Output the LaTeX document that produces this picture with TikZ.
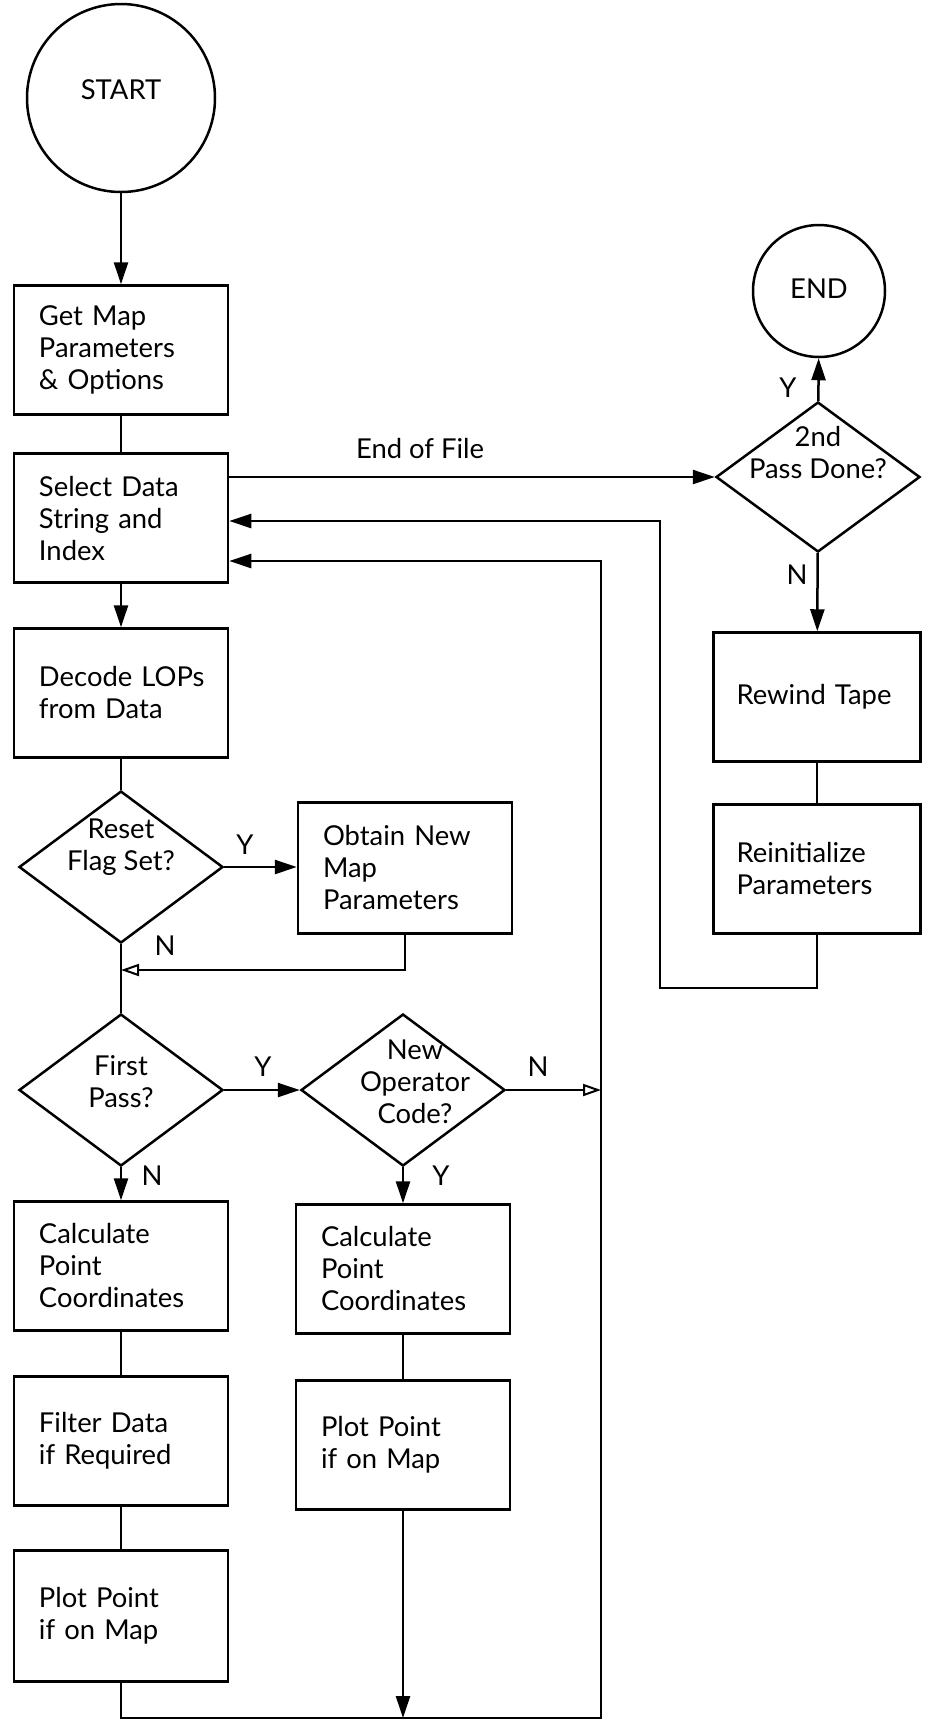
\documentclass[tikz,border=0pt]{standalone}
\usepackage{fontspec}
\setmainfont{Lato}
\usetikzlibrary{shapes.geometric,arrows.meta}
\begin{document}
\begin{tikzpicture}[x=0.5pt,y=-0.5pt,
  every node/.style={font=\fontsize{13.7pt}{16pt}\selectfont},
  line/.style={line width=1.25pt},
  flow/.style={line width=1.25pt,-{Triangle[length=11pt,width=7pt]}},
  openflow/.style={line width=1.25pt,-{Triangle[open,length=9pt,width=6pt,line width=1pt]}},
  box/.style={draw,line width=1.25pt,rectangle,minimum width=107pt,minimum height=64.5pt,text width=82pt,inner xsep=12.5pt,align=left},
  rbox/.style={box,minimum width=103.5pt,text width=80.5pt,inner xsep=11.5pt},
  term/.style={draw,line width=1.25pt,circle,inner sep=0pt},
  dec/.style={draw,line width=1.25pt,diamond,inner sep=0pt,minimum width=102pt,minimum height=76pt},
  dtext/.style={align=center,inner sep=0pt},
  lab/.style={inner sep=0pt}
]
\useasboundingbox (0,0) rectangle (932,1721);

% left column
\node[term,minimum size=94pt,label={[lab,yshift=4pt]center:START}] (start) at (121,98) {};
\node[box] (getmap) at (121,350) {Get~Map\\Parameters\\\&~Options};
\node[box] (select) at (121,518) {Select~Data\\String~and\\Index};
\node[box] (decode) at (121,693) {Decode~LOPs\\from~Data};
\node[dec,label={[dtext,yshift=10pt]center:{Reset\\Flag~Set?}}] (reset) at (121,867) {};
\node[box,minimum height=65.5pt] (obtain) at (405,868) {Obtain~New\\Map\\Parameters};
\node[dec,label={[dtext,yshift=4pt]center:{First\\Pass?}}] (first) at (121,1090) {};
\node[dec,label={[dtext,yshift=4pt,xshift=6pt]center:{New\\Operator\\Code?}}] (newop) at (403,1090) {};
\node[box] (calc1) at (121,1266) {Calculate\\Point\\Coordinates};
\node[box] (calc2) at (403,1269) {Calculate\\Point\\Coordinates};
\node[box] (filter) at (121,1441) {Filter~Data\\if~Required};
\node[box] (plot2) at (403,1445) {Plot~Point\\if~on~Map};
\node[box,minimum height=65.5pt] (plot1) at (121,1616) {Plot~Point\\if~on~Map};

% right column
\node[term,minimum size=66pt,label={[lab,yshift=1pt]center:END}] (end) at (819,291) {};
\node[dec,minimum height=75pt,label={[dtext,yshift=12pt]center:{2nd\\Pass~Done?}}] (pass2) at (818,477) {};
\node[rbox] (rewind) at (817,697) {Rewind~Tape};
\node[rbox] (reinit) at (817,869) {Reinitialize\\Parameters};

% labels
\node[lab] (eof) at (420,448) {End of File};
\node[lab] (y1) at (245,845) {Y};
\node[lab] (n1) at (165,946) {N};
\node[lab] (y2) at (263,1067) {Y};
\node[lab] (n2) at (538,1067) {N};
\node[lab] (n3) at (152,1176) {N};
\node[lab] (y3) at (441,1176) {Y};
\node[lab] (y4) at (788,388) {Y};
\node[lab] (n4) at (797,575) {N};

% helper coordinates
\coordinate (join) at (121,970);
\coordinate (la) at (121,1718);
\coordinate (lb) at (601,1718);
\coordinate (lc) at (601,561);
\coordinate (ra) at (660,988);
\coordinate (rb) at (660,521);

% connectors
\draw[flow] (start) -- (getmap);
\draw[line] (getmap) -- (select);
\draw[flow] (select) -- (decode);
\draw[line] (decode) -- (reset);
\draw[flow] (reset.east) -- (reset.east -| obtain.west);
\draw[openflow] (obtain.south) |- (join);
\draw[line] (reset) -- (first);
\draw[flow] (first.east) -- (newop.west);
\draw[openflow] (newop.east) -- (newop.east -| lb);
\draw[flow] (first) -- (calc1);
\draw[flow] (newop) -- (calc2);
\draw[line] (calc1) -- (filter);
\draw[line] (filter) -- (plot1);
\draw[line] (calc2) -- (plot2);
\draw[flow] (plot2.south) -- (plot2.south |- lb);
\draw[flow] (plot1.south) -- (la) -- (lb) -- (lc) -- (select.east |- lc);
\draw[flow] (select.east |- pass2.west) -- (pass2.west);
\draw[flow] (pass2) -- (end);
\draw[flow] (pass2) -- (rewind);
\draw[line] (rewind) -- (reinit);
\draw[flow] (reinit.south) |- (ra) -- (rb) -- (select.east |- rb);
\end{tikzpicture}
\end{document}
